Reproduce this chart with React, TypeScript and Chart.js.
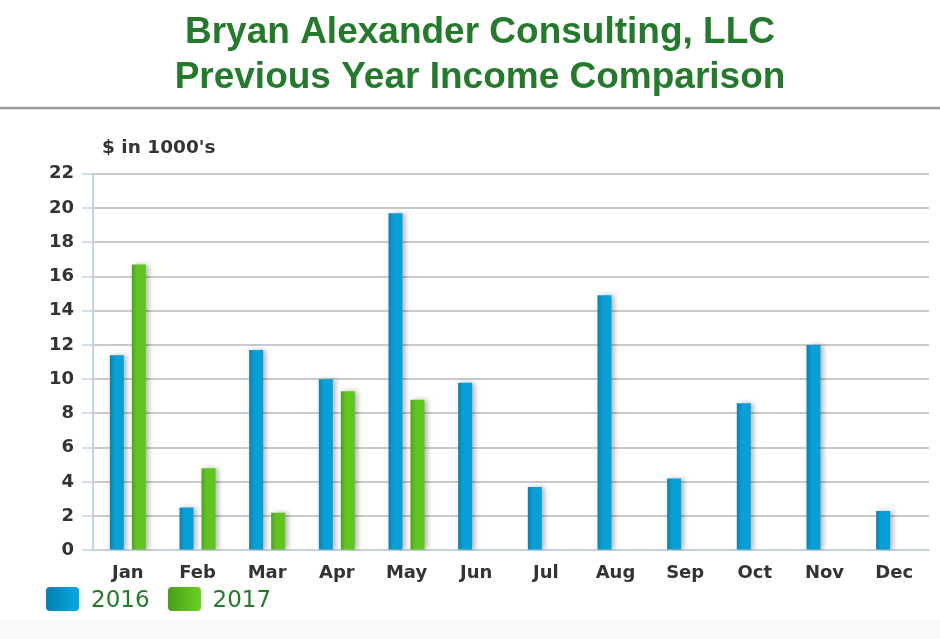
import React, { useEffect, useRef } from "react";
import { Chart, registerables } from "chart.js";

Chart.register(...registerables);

const titleLines = ["Bryan Alexander Consulting, LLC", "Previous Year Income Comparison"];
const axisCaption = "$ in 1000's";
const months = ["Jan", "Feb", "Mar", "Apr", "May", "Jun", "Jul", "Aug", "Sep", "Oct", "Nov", "Dec"];
const seriesNames = ["2016", "2017"];
const income2016 = [11.4, 2.5, 11.7, 10.0, 19.7, 9.8, 3.7, 14.9, 4.2, 8.6, 12.0, 2.3];
const income2017: (number | null)[] = [16.7, 4.8, 2.2, 9.3, 8.8, null, null, null, null, null, null, null];
const yMin = 0;
const yMax = 22;
const yStep = 2;

const GREEN_TEXT = "#237a2a";
const CAT_PCT = 0.632;
const BAR_PCT = 0.636;
const seriesGradients = [
  ["#0283b7", "#089fd6"],
  ["#4ea41a", "#62c420"],
];
const legendGradients = [
  "linear-gradient(90deg, #0380b2 0%, #03a9e4 100%)",
  "linear-gradient(90deg, #4a9e1a 0%, #6ad21e 100%)",
];

function barGradient(ctx: any, side: number, dark: string, light: string) {
  const chart = ctx.chart;
  const xs = chart.scales && chart.scales.x;
  if (!xs || !chart.chartArea || ctx.type !== "data" || xs.width <= 0) return light;
  const catW = xs.getPixelForValue(1) - xs.getPixelForValue(0);
  if (!isFinite(catW) || catW <= 0) return light;
  const slot = (catW * CAT_PCT) / 2;
  const center = xs.getPixelForValue(ctx.dataIndex) + (side * slot) / 2;
  const half = (slot * BAR_PCT) / 2;
  const g = chart.ctx.createLinearGradient(center - half, 0, center + half, 0);
  g.addColorStop(0, dark);
  g.addColorStop(0.35, light);
  g.addColorStop(1, light);
  return g;
}

const decorPlugin = {
  id: "decor",
  beforeDraw(chart: any) {
    const c = chart.ctx;
    c.save();
    c.fillStyle = "#f9f9f9";
    c.fillRect(0, 620, chart.width, chart.height - 620);
    const tb = chart.titleBlock;
    const y = tb.top + 12 + 2 * 37 * 1.2 + 6;
    c.fillStyle = "#9a9a9a";
    c.fillRect(0, y, chart.width, 2.5);
    c.restore();
  },
  afterDraw(chart: any) {
    const c = chart.ctx;
    const a = chart.chartArea;
    c.save();
    c.font = "bold 18.5px 'DejaVu Sans'";
    c.fillStyle = "#333333";
    c.textAlign = "left";
    c.textBaseline = "middle";
    c.fillText(axisCaption, a.left + 9, a.top - 26);
    c.restore();
  },
};

const shadowPlugin = {
  id: "barShadow",
  beforeDatasetsDraw(chart: any) {
    const c = chart.ctx;
    c.save();
    c.shadowColor = "rgba(0,0,0,0.28)";
    c.shadowBlur = 5;
    c.shadowOffsetX = 3;
    c.shadowOffsetY = 0;
  },
  afterDatasetsDraw(chart: any) {
    chart.ctx.restore();
  },
};

export default function App() {
  const ref = useRef<HTMLCanvasElement | null>(null);

  useEffect(() => {
    if (!ref.current) return;
    const chart = new Chart(ref.current, {
      type: "bar",
      data: {
        labels: months,
        datasets: [
          {
            label: seriesNames[0],
            data: income2016,
            backgroundColor: (ctx: any) => barGradient(ctx, -1, seriesGradients[0][0], seriesGradients[0][1]),
            borderWidth: 0,
            categoryPercentage: CAT_PCT,
            barPercentage: BAR_PCT,
          },
          {
            label: seriesNames[1],
            data: income2017,
            backgroundColor: (ctx: any) => barGradient(ctx, 1, seriesGradients[1][0], seriesGradients[1][1]),
            borderWidth: 0,
            categoryPercentage: CAT_PCT,
            barPercentage: BAR_PCT,
          },
        ],
      },
      options: {
        responsive: false,
        animation: false,
        layout: { padding: { left: 31, right: 11, top: 0, bottom: 43 } },
        plugins: {
          title: {
            display: true,
            text: titleLines,
            color: GREEN_TEXT,
            font: { family: "'Liberation Sans', Arial, sans-serif", size: 37, weight: "bold", lineHeight: 1.2 },
            padding: { top: 11, bottom: 74 },
          },
          legend: { display: false },
          tooltip: { enabled: false },
        },
        scales: {
          x: {
            grid: { display: false, drawTicks: false },
            border: { display: true, color: "#c3d3e3", width: 2 },
            ticks: {
              color: "#333333",
              padding: 12,
              font: { family: "'DejaVu Sans', sans-serif", size: 18, weight: "bold" },
            },
          },
          y: {
            min: yMin,
            max: yMax,
            afterFit: (s: any) => {
              s.width = 62;
            },
            grid: { color: "#c9c9c9", lineWidth: 2, tickLength: 11, tickColor: "#c3d3e3", tickWidth: 1.5 },
            border: { display: true, color: "#c3d3e3", width: 2 },
            ticks: {
              stepSize: yStep,
              color: "#333333",
              padding: 8,
              font: { family: "'DejaVu Sans', sans-serif", size: 18, weight: "bold" },
            },
          },
        },
      },
      plugins: [decorPlugin, shadowPlugin],
    });
    return () => chart.destroy();
  }, []);

  return (
    <div style={{ position: "absolute", left: 0, top: 0, width: 940, height: 639, background: "#ffffff" }}>
      <canvas ref={ref} width={940} height={639} style={{ display: "block" }} />
      <div
        style={{
          position: "absolute",
          left: 46,
          top: 587,
          height: 24,
          display: "flex",
          alignItems: "center",
          fontFamily: "'DejaVu Sans', sans-serif",
          fontSize: 23,
          color: GREEN_TEXT,
          lineHeight: "24px",
        }}
      >
        {seriesNames.map((name, i) => (
          <div key={name} style={{ display: "flex", alignItems: "center", marginRight: 18 }}>
            <span
              style={{
                display: "inline-block",
                width: 33,
                height: 24,
                borderRadius: 4,
                background: legendGradients[i],
                marginRight: 12,
              }}
            />
            <span>{name}</span>
          </div>
        ))}
      </div>
    </div>
  );
}
